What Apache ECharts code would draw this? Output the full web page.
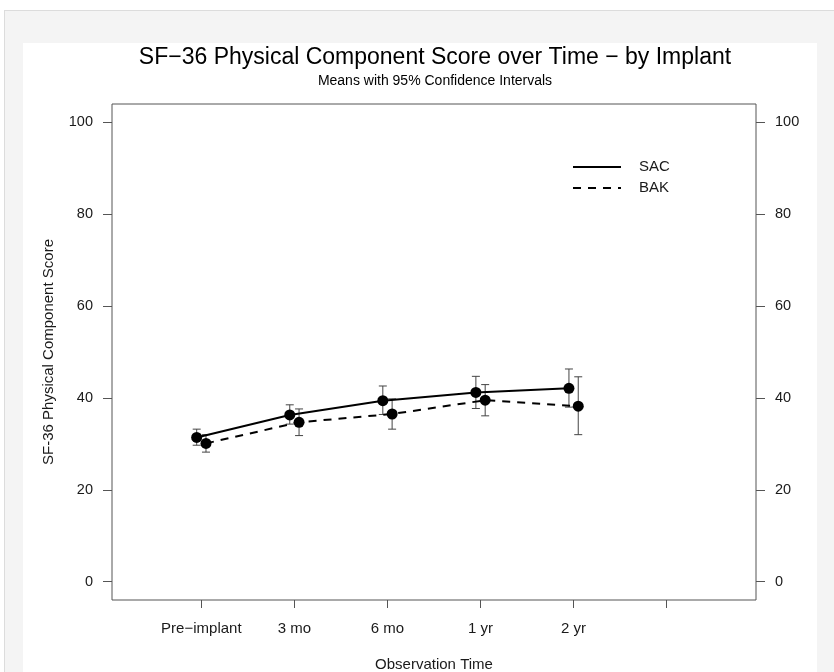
<!DOCTYPE html>
<html><head><meta charset="utf-8">
<script src="https://cdn.jsdelivr.net/npm/echarts@6/dist/echarts.min.js"></script>
<style>
html,body{margin:0;padding:0;width:834px;height:672px;overflow:hidden;background:#fff;}
#frame{position:absolute;left:4px;top:10px;width:840px;height:680px;border:1px solid #dcdcdc;background:#f4f4f4;box-sizing:border-box;}
#panel{position:absolute;left:23px;top:43px;width:794px;height:640px;background:#fff;}
#chart{position:absolute;left:0;top:0;width:834px;height:672px;}
</style></head>
<body><div id="frame"></div><div id="panel"></div><div id="chart"></div>
<script>
const categories = ['Pre\u2212implant','3 mo','6 mo','1 yr','2 yr'];
const xTickPositions = [1,2,3,4,5,6];
const xLabelPositions = [1,2,3,4,5];
const yTicks = [0,20,40,60,80,100];
const sacMean = [31.4,36.3,39.4,41.2,42.1];
const sacLow  = [29.7,34.3,36.4,37.7,38.0];
const sacHigh = [33.2,38.5,42.6,44.7,46.3];
const bakMean = [30.1,34.7,36.5,39.5,38.2];
const bakLow  = [28.2,31.8,33.2,36.1,32.0];
const bakHigh = [32.0,37.6,39.8,42.9,44.6];

const OFFSET = 0.05;
const FONT = "'Liberation Sans', Arial, sans-serif";
const AX = '#555';
const TXT = '#1a1a1a';

function errData(low, high, off){ return low.map((l,i)=>[i+1+off, l, high[i]]); }
function ptData(mean, off){ return mean.map((m,i)=>[i+1+off, m]); }

function renderErr(params, api){
  const x = api.value(0);
  const lo = api.coord([x, api.value(1)]);
  const hi = api.coord([x, api.value(2)]);
  const w = 4;
  const style = {stroke:'#444', lineWidth:1};
  return {type:'group', children:[
    {type:'line', shape:{x1:lo[0],y1:lo[1],x2:hi[0],y2:hi[1]}, style},
    {type:'line', shape:{x1:lo[0]-w,y1:lo[1],x2:lo[0]+w,y2:lo[1]}, style},
    {type:'line', shape:{x1:hi[0]-w,y1:hi[1],x2:hi[0]+w,y2:hi[1]}, style}
  ]};
}

const chart = echarts.init(document.getElementById('chart'), null, {renderer:'canvas'});
const yAxisBase = (pos) => ({
  type:'value', position:pos, min:-4, max:104,
  axisLine:{show:false, onZero:false},
  axisTick:{show:true, length:9, customValues:yTicks, lineStyle:{color:AX}},
  axisLabel:{customValues:yTicks, margin:19, color:TXT, fontSize:14.5, fontFamily:FONT},
  splitLine:{show:false}
});
const option = {
  backgroundColor:'transparent',
  animation:false,
  grid:{left:112, top:104, right:78, bottom:72, show:true, borderColor:AX, borderWidth:1,
        backgroundColor:'transparent', containLabel:false, outerBoundsMode:'none'},
  xAxis:{
    type:'value', min:0.04, max:6.96,
    axisLine:{show:false, onZero:false},
    axisTick:{show:true, length:8, customValues:xTickPositions, lineStyle:{color:AX}},
    axisLabel:{customValues:xLabelPositions, formatter:(v)=>categories[Math.round(v)-1]||'', margin:21, color:TXT, fontSize:15, fontFamily:FONT},
    splitLine:{show:false},
    name:'Observation Time', nameLocation:'middle', nameGap:57,
    nameTextStyle:{color:TXT, fontSize:15, fontFamily:FONT}
  },
  yAxis:[
    Object.assign(yAxisBase('left'), {name:'SF-36 Physical Component Score', nameLocation:'middle', nameGap:56,
      nameTextStyle:{color:TXT, fontSize:15, fontFamily:FONT}}),
    yAxisBase('right')
  ],
  series:[
    {type:'custom', name:'SAC CI', renderItem:renderErr, data:errData(sacLow,sacHigh,-OFFSET), z:1, silent:true},
    {type:'custom', name:'BAK CI', renderItem:renderErr, data:errData(bakLow,bakHigh,OFFSET), z:1, silent:true},
    {type:'line', name:'SAC', data:ptData(sacMean,-OFFSET), symbol:'circle', symbolSize:11,
      itemStyle:{color:'#000'}, lineStyle:{color:'#000', width:2, type:'solid'}, z:3},
    {type:'line', name:'BAK', data:ptData(bakMean,OFFSET), symbol:'circle', symbolSize:11,
      itemStyle:{color:'#000'}, lineStyle:{color:'#000', width:2, type:[8,7]}, z:3}
  ],
  graphic:[
    {type:'text', x:435, y:57.5, style:{text:'SF\u221236 Physical Component Score over Time \u2212 by Implant', fill:'#000', font:'23px '+FONT, textAlign:'center', textVerticalAlign:'middle'}},
    {type:'text', x:435, y:81.5, style:{text:'Means with 95% Confidence Intervals', fill:'#000', font:'14px '+FONT, textAlign:'center', textVerticalAlign:'middle'}},
    {type:'line', shape:{x1:573,y1:167,x2:621,y2:167}, style:{stroke:'#000', lineWidth:2}},
    {type:'line', shape:{x1:573,y1:188,x2:621,y2:188}, style:{stroke:'#000', lineWidth:2, lineDash:[8,7]}},
    {type:'text', x:639, y:167, style:{text:'SAC', fill:TXT, font:'15px '+FONT, textAlign:'left', textVerticalAlign:'middle'}},
    {type:'text', x:639, y:188, style:{text:'BAK', fill:TXT, font:'15px '+FONT, textAlign:'left', textVerticalAlign:'middle'}}
  ]
};
chart.setOption(option);
</script>
</body></html>
